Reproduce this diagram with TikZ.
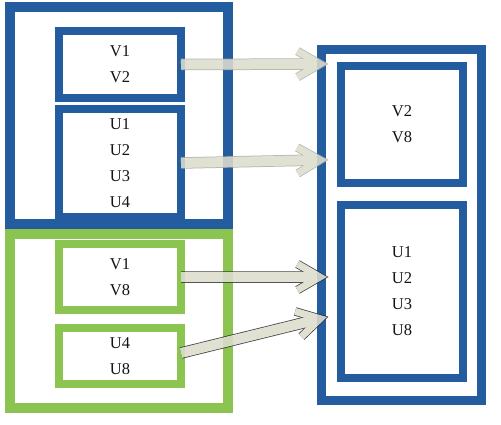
\documentclass[tikz,border=0pt]{standalone}
\usepackage{fontspec}
\setmainfont{Liberation Serif}
\usetikzlibrary{calc}
\definecolor{bblue}{RGB}{36,92,160}
\definecolor{bgreen}{RGB}{140,196,82}
\definecolor{arrowfill}{RGB}{221,221,206}
\definecolor{arrowline}{RGB}{170,170,160}
\definecolor{txt}{RGB}{20,20,20}
\newcommand\fatarrow[3]{%
  \foreach \w/\v/\c in {11.5/8.5/#3,10/7/arrowfill}{%
    \draw[line width=\w, draw=\c, line cap=butt, shorten >=6pt] (#1) -- (#2);
    \draw[line width=\v, draw=\c, line cap=butt, line join=miter, miter limit=10]
      ($(#2)!26pt!30:(#1)$) -- (#2) -- ($(#2)!26pt!-30:(#1)$);
  }}
\begin{document}
\begin{tikzpicture}[x=1pt,y=-1pt,
  box/.style={draw=#1, line width=8, outer sep=0pt, inner sep=0pt, align=center,
    text=txt, font=\fontsize{16.5}{26}\selectfont},
  outerbox/.style={draw=#1, line width=9.5, outer sep=0pt, inner sep=0pt}]
\useasboundingbox (0,0) rectangle (501,425);
\fill[white] (0,0) rectangle (501,425);
% left containers
\node[outerbox=bblue, minimum width=218, minimum height=217] (lb) at (119,115.5) {};
\node[outerbox=bgreen, minimum width=218, minimum height=174, line width=10] (lg) at (119,321) {};
% left inner boxes
\node[box=bblue, minimum width=122, minimum height=67] (v12) at (120,64.5) {V1\\V2};
\node[box=bblue, minimum width=122, minimum height=108] (u14) at (120,163) {U1\\U2\\U3\\U4};
\node[box=bgreen, minimum width=122, minimum height=66] (v18) at (120,277) {V1\\V8};
\node[box=bgreen, minimum width=122, minimum height=56] (u48) at (120,356) {U4\\U8};
% right container
\node[outerbox=bblue, minimum width=160, minimum height=351] (ro) at (401.5,225) {};
\node[box=bblue, minimum width=122, minimum height=117] (r28) at (402,124.5) {V2\\V8};
\node[box=bblue, minimum width=122, minimum height=173] (ru) at (402,291.5) {U1\\U2\\U3\\U8};
% arrow tips
\coordinate (t1) at (320,64);
\coordinate (t2) at (320,160);
\coordinate (t3) at (320,277);
\coordinate (t4) at (320.2,318.7);
\begin{scope}[opacity=0.88, transparency group]
\fatarrow{v12.east}{t1}{arrowline}
\end{scope}
\begin{scope}[opacity=0.88, transparency group]
\fatarrow{u14.east}{t2}{arrowline}
\end{scope}
\begin{scope}[opacity=0.88, transparency group]
\fatarrow{v18.east}{t3}{black!85}
\end{scope}
\begin{scope}[opacity=0.88, transparency group]
\fatarrow{[yshift=3pt]u48.east}{t4}{black!85}
\end{scope}
\end{tikzpicture}
\end{document}
